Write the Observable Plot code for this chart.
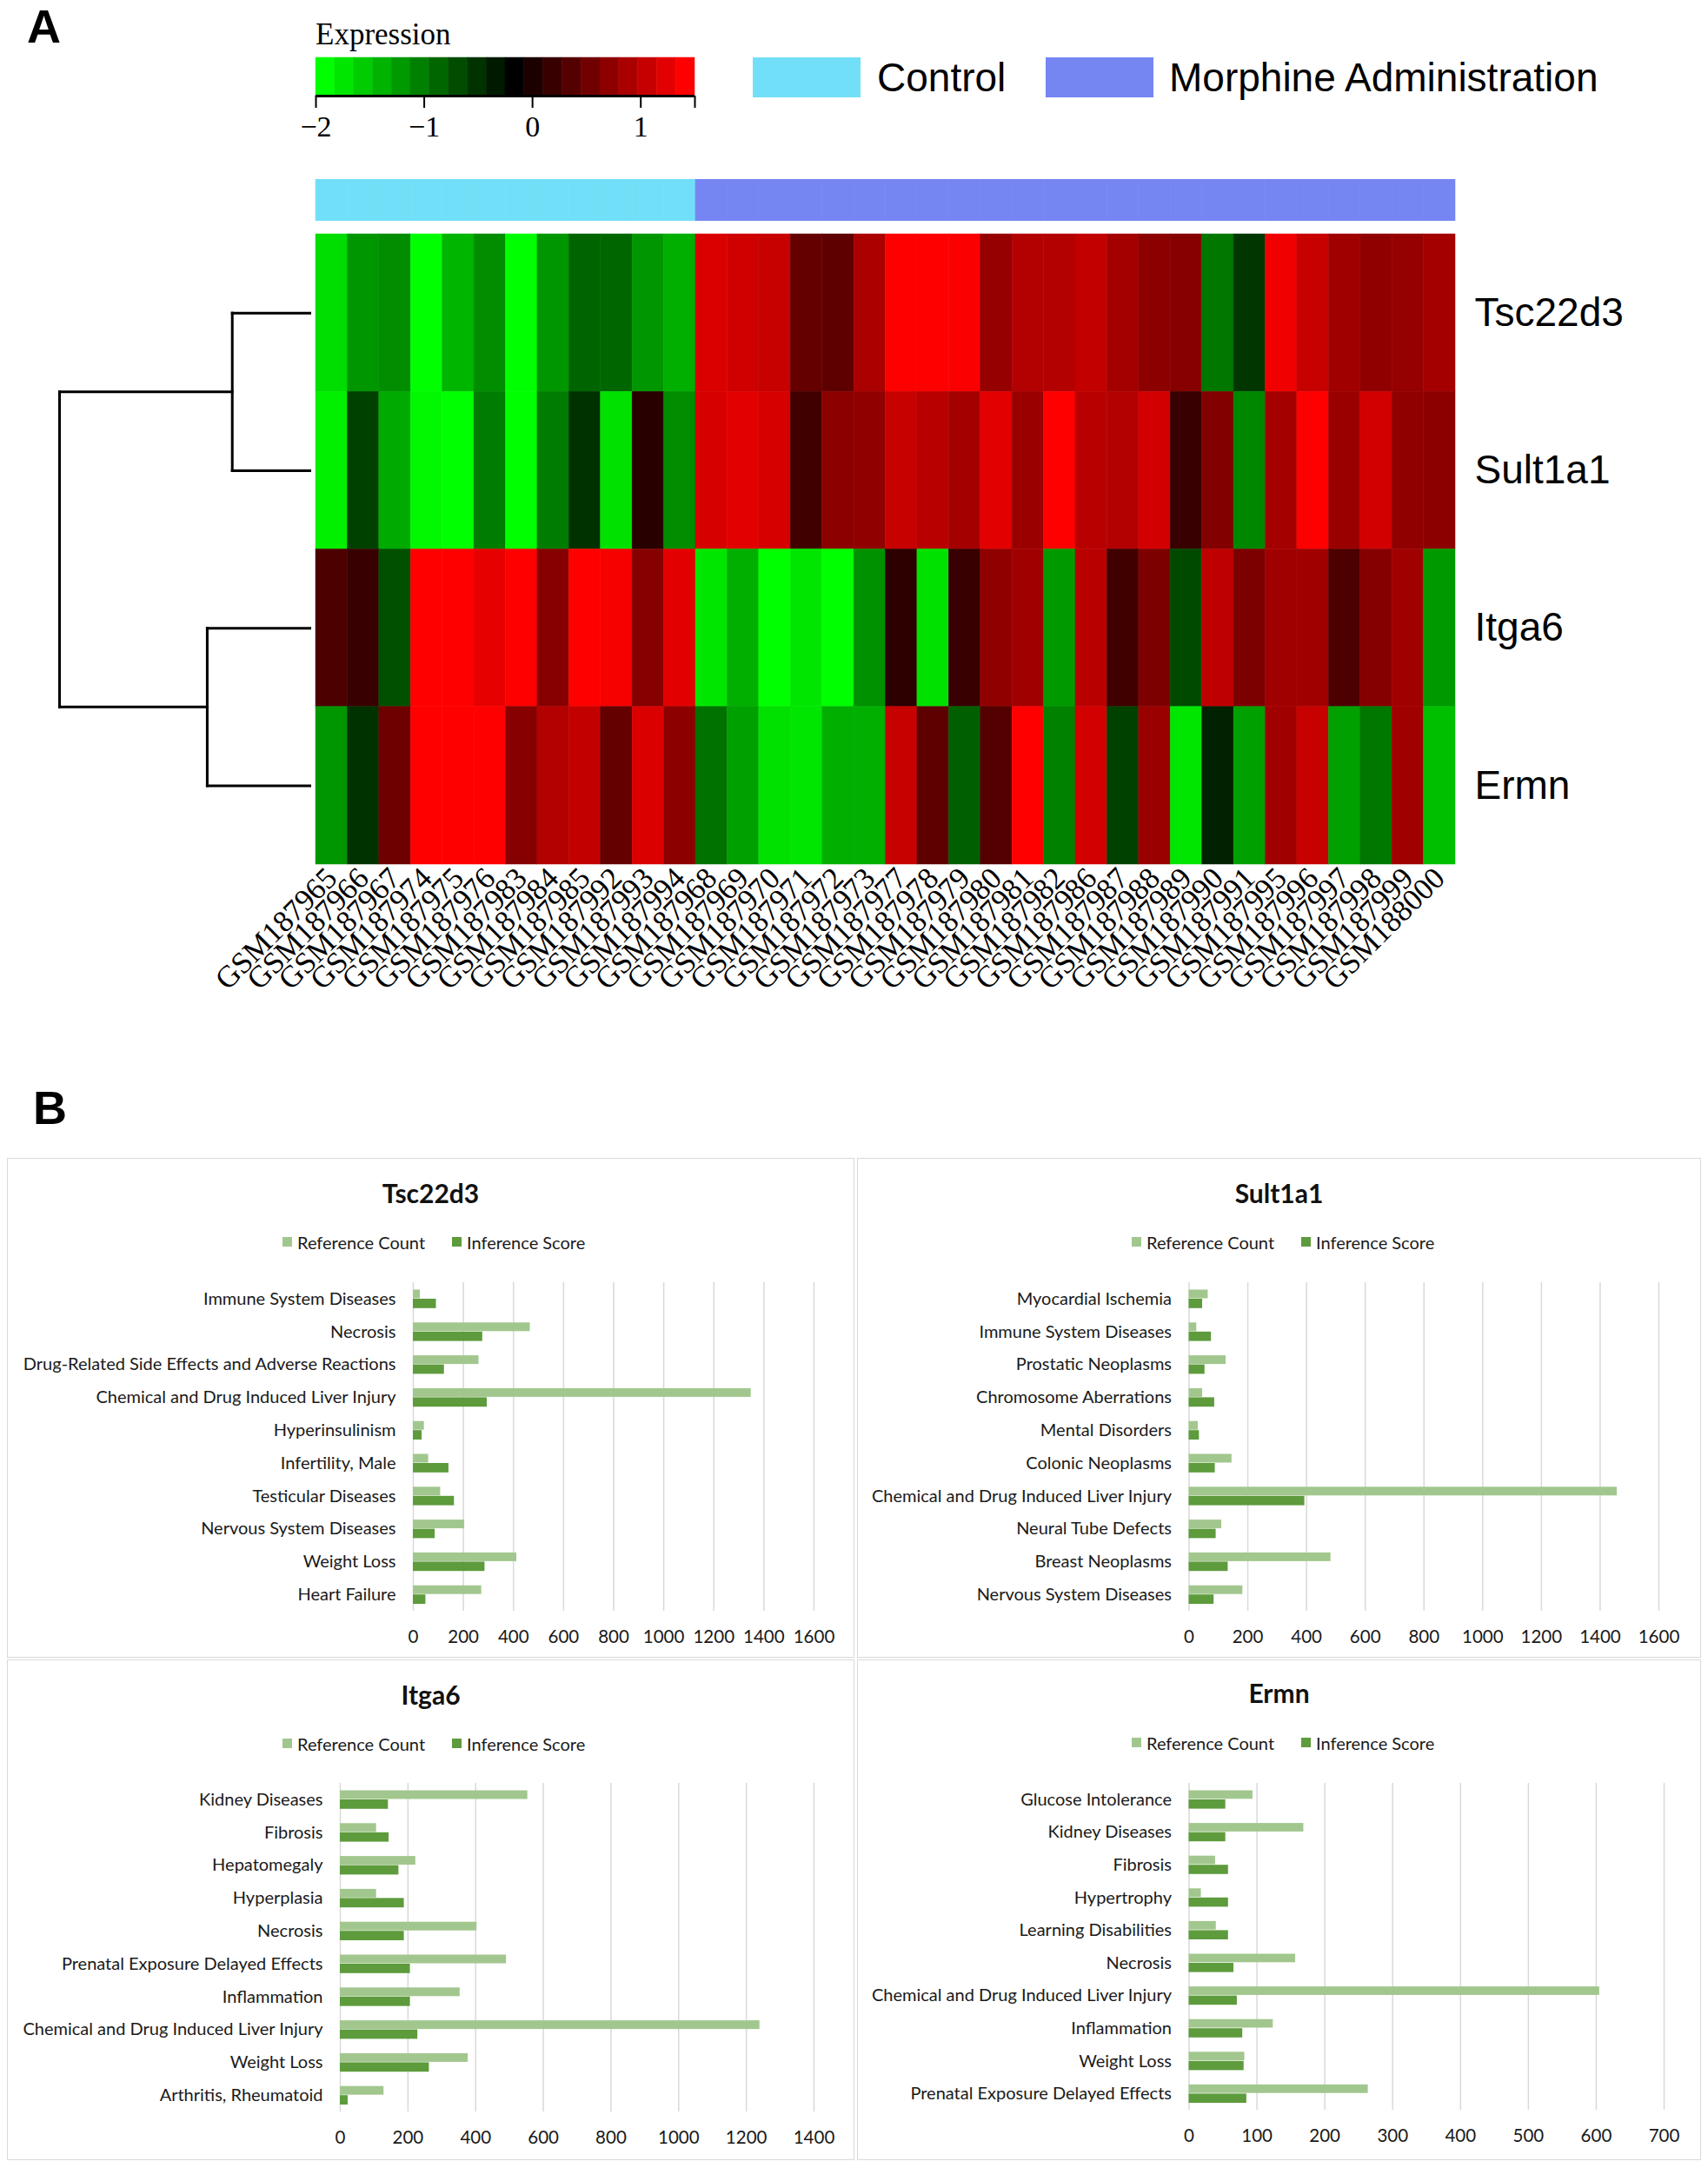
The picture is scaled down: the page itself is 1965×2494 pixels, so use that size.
<!DOCTYPE html>
<html>
<head>
<meta charset="utf-8">
<script src="https://cdn.jsdelivr.net/npm/d3@7"></script>
<script src="https://cdn.jsdelivr.net/npm/@observablehq/plot@0.6"></script>
<style>
  body { margin: 0; background: #fff; }
  #root { position: relative; width: 1965px; height: 2494px; overflow: hidden; background: #fff; }
  .abs { position: absolute; white-space: nowrap; }
</style>
</head>
<body>
<div id="root"></div>
<script>
// ---------------- DATA: heatmap ----------------
const controlSamples = ["GSM187965","GSM187966","GSM187967","GSM187974","GSM187975","GSM187976","GSM187983","GSM187984","GSM187985","GSM187992","GSM187993","GSM187994"];
const morphineSamples = ["GSM187968","GSM187969","GSM187970","GSM187971","GSM187972","GSM187973","GSM187977","GSM187978","GSM187979","GSM187980","GSM187981","GSM187982","GSM187986","GSM187987","GSM187988","GSM187989","GSM187990","GSM187991","GSM187995","GSM187996","GSM187997","GSM187998","GSM187999","GSM188000"];
const groups = ["Control", "Morphine Administration"];
const groupColors = ["#72dff8", "#7586f3"];
const genes = ["Tsc22d3", "Sult1a1", "Itga6", "Ermn"];
const exprTsc22d3 = [-1.75,-1.24,-1.17,-2.0,-1.46,-1.17,-2.0,-1.24,-0.88,-0.9,-1.24,-1.42, 1.27,1.18,1.14,0.50,0.46,0.95, 1.5,1.5,1.47,0.82,1.01,1.01, 1.11,0.92,0.76,0.72,-1.02,-0.55, 1.40,1.14,0.89,0.79,0.82,0.92];
const exprSult1a1 = [-1.89,-0.62,-1.38,-1.96,-2.0,-1.06,-2.0,-1.06,-0.51,-1.78,0.11,-1.17, 1.24,1.31,1.24,0.27,0.76,0.79, 1.14,1.05,0.92,1.31,0.85,1.5, 1.05,1.01,1.21,0.21,0.69,-1.13, 0.92,1.5,0.85,1.21,0.79,0.76];
const exprItga6 = [0.34,0.21,-0.73,1.5,1.5,1.34,1.5,0.72,1.5,1.44,0.72,1.31, -1.82,-1.42,-2.0,-1.82,-2.0,-1.2, 0.14,-1.78,0.21,0.79,0.89,-1.27, 1.05,0.27,0.66,-0.69,1.08,0.66, 0.89,0.89,0.34,0.72,0.89,-1.27];
const exprErmn = [-1.24,-0.51,0.56,1.5,1.5,1.5,0.72,1.01,1.11,0.50,1.27,0.76, -0.98,-1.31,-1.78,-1.82,-1.42,-1.42, 1.14,0.46,-0.84,0.40,1.5,-1.09, 1.21,-0.62,0.85,-1.82,-0.40,-1.31, 0.89,1.14,-1.31,-1.02,0.89,-1.53];
// hierarchical clustering merges (height in arbitrary distance units)
const dendroMerges = [
  {left: "Tsc22d3", right: "Sult1a1", height: 3.1},
  {left: "Itga6", right: "Ermn", height: 4.1},
  {left: 0, right: 1, height: 10}
];
const keyTicks = [-2, -1, 0, 1];
const keyDomain = [-2, -0.15, 1.5];

// ---------------- DATA: bar panels ----------------
const seriesNames = ["Reference Count", "Inference Score"];
const seriesColors = ["#a2c78e", "#5d9b3c"];

const tscCategories = ["Immune System Diseases","Necrosis","Drug-Related Side Effects and Adverse Reactions","Chemical and Drug Induced Liver Injury","Hyperinsulinism","Infertility, Male","Testicular Diseases","Nervous System Diseases","Weight Loss","Heart Failure"];
const tscRef = [28,467,262,1349,44,61,109,205,413,273];
const tscInf = [92,277,124,295,35,142,164,87,286,50];
const tscTicks = [0,200,400,600,800,1000,1200,1400,1600];

const sultCategories = ["Myocardial Ischemia","Immune System Diseases","Prostatic Neoplasms","Chromosome Aberrations","Mental Disorders","Colonic Neoplasms","Chemical and Drug Induced Liver Injury","Neural Tube Defects","Breast Neoplasms","Nervous System Diseases"];
const sultRef = [65,26,126,46,31,146,1458,111,483,183];
const sultInf = [46,76,54,87,35,89,394,92,133,85];
const sultTicks = [0,200,400,600,800,1000,1200,1400,1600];

const itgaCategories = ["Kidney Diseases","Fibrosis","Hepatomegaly","Hyperplasia","Necrosis","Prenatal Exposure Delayed Effects","Inflammation","Chemical and Drug Induced Liver Injury","Weight Loss","Arthritis, Rheumatoid"];
const itgaRef = [554,107,223,107,404,491,354,1240,378,129];
const itgaInf = [142,144,173,189,189,207,207,229,263,23];
const itgaTicks = [0,200,400,600,800,1000,1200,1400];

const ermnCategories = ["Glucose Intolerance","Kidney Diseases","Fibrosis","Hypertrophy","Learning Disabilities","Necrosis","Chemical and Drug Induced Liver Injury","Inflammation","Weight Loss","Prenatal Exposure Delayed Effects"];
const ermnRef = [94,169,39,18,40,157,605,124,82,264];
const ermnInf = [54,54,58,58,58,66,71,79,81,85];
const ermnTicks = [0,100,200,300,400,500,600,700];

// ---------------- helpers ----------------
const root = document.getElementById("root");
function place(el, left, top) {
  el.style.position = "absolute";
  el.style.left = left + "px";
  el.style.top = top + "px";
  root.appendChild(el);
  return el;
}
function addText(text, left, top, css) {
  const d = document.createElement("div");
  d.className = "abs";
  d.textContent = text;
  Object.assign(d.style, css || {});
  return place(d, left, top);
}
function addBox(left, top, w, h, css) {
  const d = document.createElement("div");
  d.className = "abs";
  d.style.width = w + "px";
  d.style.height = h + "px";
  Object.assign(d.style, css || {});
  return place(d, left, top);
}

const samples = controlSamples.concat(morphineSamples);
const exprByGene = [exprTsc22d3, exprSult1a1, exprItga6, exprErmn];
const colorSpec = {type: "linear", domain: keyDomain, range: ["#00ff00", "#000000", "#ff0000"], interpolate: "rgb", clamp: true};

// ---------------- Panel A ----------------
addText("A", 31, 3, {fontFamily: "Liberation Sans, Arial, sans-serif", fontWeight: "bold", fontSize: "54px", lineHeight: "1"});
addText("Expression", 363, 22, {fontFamily: "Liberation Serif, serif", fontSize: "35px", lineHeight: "1"});

// colour key (stepped bins of the colour scale)
const keyBins = d3.range(20).map(i => ({
  x1: -2 + i * 0.175,
  x2: -2 + (i + 1) * 0.175,
  v: i <= 10 ? -2 + i * 0.185 : -0.15 + (i - 10) * (1.65 / 9)
}));
place(Plot.plot({
  width: 476, height: 106,
  marginLeft: 20, marginRight: 20, marginTop: 7, marginBottom: 55,
  x: {domain: [-2, 1.5]},
  y: {domain: [0, 1], axis: null},
  color: colorSpec,
  style: {background: "transparent", overflow: "visible"},
  marks: [
    Plot.rect(keyBins, {x1: "x1", x2: "x2", y1: 0, y2: 1, fill: "v", stroke: "v", strokeWidth: 0.5}),
    Plot.ruleY([0], {stroke: "black", strokeWidth: 3}),
    Plot.axisX({ticks: keyTicks.concat([1.5]), tickFormat: d => d === 1.5 ? "" : (d < 0 ? "\u2212" + Math.abs(d) : String(d)),
      tickSize: 14, strokeWidth: 2, tickPadding: 8, fontSize: 34, fontFamily: "Liberation Serif, serif", label: null})
  ]
}), 343, 59);

// group legend
addBox(866, 66, 124, 46, {background: groupColors[0]});
addText(groups[0], 1009, 62, {fontFamily: "Liberation Sans, Arial, sans-serif", fontSize: "46px", lineHeight: "54px"});
addBox(1203, 66, 124, 46, {background: groupColors[1]});
addText(groups[1], 1345, 62, {fontFamily: "Liberation Sans, Arial, sans-serif", fontSize: "46px", lineHeight: "54px"});

// annotation bar
const annotData = samples.map(s => ({sample: s, group: controlSamples.includes(s) ? groups[0] : groups[1]}));
place(Plot.plot({
  width: 1620, height: 48,
  marginLeft: 20, marginRight: 289, marginTop: 0, marginBottom: 0,
  x: {domain: samples, padding: 0, round: false, axis: null},
  color: {domain: groups, range: groupColors},
  style: {background: "transparent"},
  marks: [Plot.cell(annotData, {x: "sample", fill: "group", stroke: "group", strokeWidth: 0.6})]
}), 343, 206);

// heatmap
const heatData = genes.flatMap((g, gi) => samples.map((s, si) => ({gene: g, sample: s, value: exprByGene[gi][si]})));
place(Plot.plot({
  width: 1620, height: 725 + 200,
  marginLeft: 20, marginRight: 289, marginTop: 0, marginBottom: 200,
  x: {domain: samples, padding: 0, round: false, label: null},
  y: {domain: genes, padding: 0, round: false, label: null},
  color: colorSpec,
  style: {background: "transparent", overflow: "visible"},
  marks: [
    Plot.cell(heatData, {x: "sample", y: "gene", fill: "value", stroke: "value", strokeWidth: 0.5}),
    Plot.axisX({tickRotate: -45, tickSize: 0, tickPadding: 10, fontSize: 35, fontFamily: "Liberation Serif, serif", label: null}),
    Plot.axisY({anchor: "right", tickSize: 0, tickPadding: 22, fontSize: 46, fontFamily: "Liberation Sans, Arial, sans-serif", label: null})
  ]
}), 343, 269);

// dendrogram
const leafPos = Object.fromEntries(genes.map((g, i) => [g, {y: i + 0.5, h: 0}]));
const nodes = [];
const segments = [];
for (const m of dendroMerges) {
  const l = typeof m.left === "string" ? leafPos[m.left] : nodes[m.left];
  const r = typeof m.right === "string" ? leafPos[m.right] : nodes[m.right];
  segments.push({x1: m.height, y1: l.y, x2: m.height, y2: r.y});
  segments.push({x1: l.h, y1: l.y, x2: m.height, y2: l.y});
  segments.push({x1: r.h, y1: r.y, x2: m.height, y2: r.y});
  nodes.push({y: (l.y + r.y) / 2, h: m.height});
}
place(Plot.plot({
  width: 320, height: 725,
  marginLeft: 18, marginRight: 14, marginTop: 0, marginBottom: 0,
  x: {domain: [10, 0], axis: null},
  y: {domain: [4, 0], axis: null},
  style: {background: "transparent", overflow: "visible"},
  marks: [Plot.link(segments, {x1: "x1", y1: "y1", x2: "x2", y2: "y2", stroke: "black", strokeWidth: 3, strokeLinecap: "square"})]
}), 50, 269);

// ---------------- Panel B ----------------
addText("B", 38, 1247, {fontFamily: "Liberation Sans, Arial, sans-serif", fontWeight: "bold", fontSize: "54px", lineHeight: "1"});

function barPanel(cfg) {
  const {title, cats, ref, inf, ticks, box, frame, titleY, legendY, legendX} = cfg;
  addBox(box.x, box.y, box.w, box.h, {border: "1.5px solid #d9d9d9", boxSizing: "border-box"});
  addText(title, box.x + box.w / 2, titleY - 18, {fontFamily: "Lato, sans-serif", fontWeight: "bold", fontSize: "30px", lineHeight: "36px", transform: "translateX(-50%)", color: "#111"});
  // legend
  const lx = [legendX, legendX + 195];
  seriesNames.forEach((name, i) => {
    addBox(lx[i], legendY - 6, 11, 11, {background: seriesColors[i]});
    addText(name, lx[i] + 17, legendY - 12, {fontFamily: "Lato, sans-serif", fontSize: "20px", lineHeight: "24px", color: "#1a1a1a"});
  });
  const rows = cats.map((c, i) => ({cat: c, ref: ref[i], inf: inf[i]}));
  const svgLeft = box.x + 2;
  const width = box.w - 4;
  const mt = 10, mb = 50;
  place(Plot.plot({
    width, height: (frame.y1 - frame.y0) + mt + mb,
    marginLeft: frame.x0 - svgLeft, marginRight: width - (frame.x1 - svgLeft), marginTop: mt, marginBottom: mb,
    x: {domain: [ticks[0], ticks[ticks.length - 1]], label: null},
    y: {domain: cats, padding: 0, round: false, label: null},
    style: {background: "transparent", fontFamily: "Lato, sans-serif", color: "#1a1a1a", overflow: "visible"},
    marks: [
      Plot.gridX(ticks, {stroke: "#d9d9d9", strokeOpacity: 1, strokeWidth: 1.5}),
      Plot.barX(rows, {x: "ref", y: "cat", fill: seriesColors[0], insetTop: 8.5, insetBottom: 19.3}),
      Plot.barX(rows, {x: "inf", y: "cat", fill: seriesColors[1], insetTop: 19, insetBottom: 8}),
      Plot.axisX({ticks, tickFormat: d => String(d), tickSize: 0, tickPadding: 22, fontSize: 20.5, label: null}),
      Plot.axisY({tickSize: 0, tickPadding: 20, fontSize: 20, label: null})
    ]
  }), svgLeft, frame.y0 - mt);
}

barPanel({title: "Tsc22d3", cats: tscCategories, ref: tscRef, inf: tscInf, ticks: tscTicks,
  box: {x: 8, y: 1332, w: 975, h: 575}, frame: {x0: 475, x1: 936, y0: 1475, y1: 1853},
  titleY: 1372, legendY: 1429, legendX: 325});
barPanel({title: "Sult1a1", cats: sultCategories, ref: sultRef, inf: sultInf, ticks: sultTicks,
  box: {x: 986, y: 1332, w: 971, h: 575}, frame: {x0: 1367.5, x1: 1908, y0: 1475, y1: 1853},
  titleY: 1372, legendY: 1429, legendX: 1302});
barPanel({title: "Itga6", cats: itgaCategories, ref: itgaRef, inf: itgaInf, ticks: itgaTicks,
  box: {x: 8, y: 1909, w: 975, h: 576}, frame: {x0: 391, x1: 936, y0: 2051, y1: 2429},
  titleY: 1949, legendY: 2006, legendX: 325});
barPanel({title: "Ermn", cats: ermnCategories, ref: ermnRef, inf: ermnInf, ticks: ermnTicks,
  box: {x: 986, y: 1909, w: 971, h: 576}, frame: {x0: 1367.5, x1: 1914, y0: 2051, y1: 2427},
  titleY: 1947, legendY: 2005, legendX: 1302});
</script>
</body>
</html>
